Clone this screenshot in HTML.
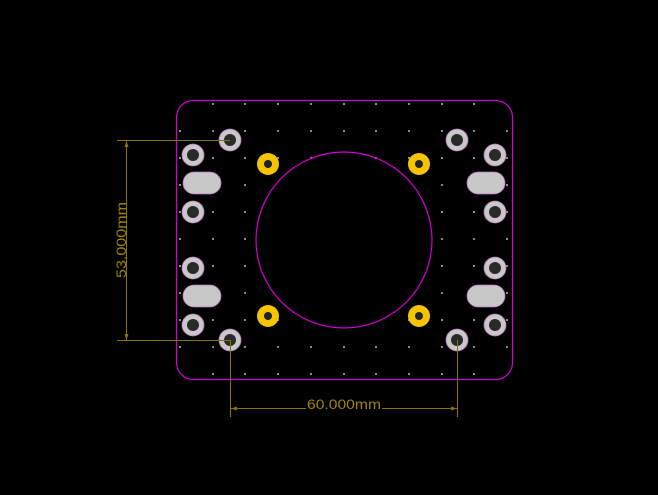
<!DOCTYPE html>
<html><head><style>html,body{margin:0;padding:0;background:#000;}svg{display:block}</style></head>
<body>
<svg width="658" height="495" viewBox="0 0 658 495" xmlns="http://www.w3.org/2000/svg">
<rect width="658" height="495" fill="#000"/>
<g fill="#8c8c8c">
<path d="
M212 103h2v2h-2z M244 103h2v2h-2z M277 103h2v2h-2z M310 103h2v2h-2z M343 103h2v2h-2z M375 103h2v2h-2z M408 103h2v2h-2z M441 103h2v2h-2z M473 103h2v2h-2z
M179 130h2v2h-2z M212 130h2v2h-2z M244 130h2v2h-2z M277 130h2v2h-2z M310 130h2v2h-2z M343 130h2v2h-2z M375 130h2v2h-2z M408 130h2v2h-2z M441 130h2v2h-2z M473 130h2v2h-2z M506 130h2v2h-2z
M179 157h2v2h-2z M212 157h2v2h-2z M244 157h2v2h-2z M277 157h2v2h-2z M310 157h2v2h-2z M375 157h2v2h-2z M408 157h2v2h-2z M441 157h2v2h-2z M473 157h2v2h-2z M506 157h2v2h-2z
M179 184h2v2h-2z M212 184h2v2h-2z M244 184h2v2h-2z M441 184h2v2h-2z M473 184h2v2h-2z M506 184h2v2h-2z
M179 211h2v2h-2z M212 211h2v2h-2z M244 211h2v2h-2z M441 211h2v2h-2z M473 211h2v2h-2z M506 211h2v2h-2z
M179 238h2v2h-2z M212 238h2v2h-2z M244 238h2v2h-2z M441 238h2v2h-2z M473 238h2v2h-2z M506 238h2v2h-2z
M179 265h2v2h-2z M212 265h2v2h-2z M244 265h2v2h-2z M441 265h2v2h-2z M473 265h2v2h-2z M506 265h2v2h-2z
M179 292h2v2h-2z M212 292h2v2h-2z M244 292h2v2h-2z M441 292h2v2h-2z M473 292h2v2h-2z M506 292h2v2h-2z
M179 319h2v2h-2z M212 319h2v2h-2z M244 319h2v2h-2z M277 319h2v2h-2z M408 319h2v2h-2z M441 319h2v2h-2z M473 319h2v2h-2z M506 319h2v2h-2z
M179 346h2v2h-2z M212 346h2v2h-2z M244 346h2v2h-2z M277 346h2v2h-2z M310 346h2v2h-2z M343 346h2v2h-2z M375 346h2v2h-2z M408 346h2v2h-2z M441 346h2v2h-2z M473 346h2v2h-2z M506 346h2v2h-2z
M212 373h2v2h-2z M244 373h2v2h-2z M277 373h2v2h-2z M310 373h2v2h-2z M343 373h2v2h-2z M375 373h2v2h-2z M408 373h2v2h-2z M441 373h2v2h-2z M473 373h2v2h-2z
"/>
</g>
<rect x="176.5" y="100.5" width="336" height="279" rx="17" fill="none" stroke="#d000d0" stroke-width="1.2"/>
<circle cx="344" cy="240" r="88" fill="none" stroke="#d000d0" stroke-width="1.2"/>
<g fill="#c8c8c8" stroke="#c070c0" stroke-width="0.8">
<circle cx="230" cy="140" r="11"/><circle cx="193" cy="155" r="11"/><circle cx="193" cy="212" r="11"/>
<circle cx="193" cy="268" r="11"/><circle cx="193" cy="325" r="11"/><circle cx="230" cy="340" r="11"/>
<circle cx="457" cy="140" r="11"/><circle cx="495" cy="155" r="11"/><circle cx="495" cy="212" r="11"/>
<circle cx="495" cy="268" r="11"/><circle cx="495" cy="325" r="11"/><circle cx="457" cy="340" r="11"/>
<rect x="183" y="172" width="38" height="22" rx="11"/><rect x="183" y="285" width="38" height="22" rx="11"/>
<rect x="467" y="172" width="38" height="22" rx="11"/><rect x="467" y="285" width="38" height="22" rx="11"/>
</g>
<g fill="#2a2a2a">
<circle cx="230" cy="140" r="6"/><circle cx="193" cy="155" r="6"/><circle cx="193" cy="212" r="6"/>
<circle cx="193" cy="268" r="6"/><circle cx="193" cy="325" r="6"/><circle cx="230" cy="340" r="6"/>
<circle cx="457" cy="140" r="6"/><circle cx="495" cy="155" r="6"/><circle cx="495" cy="212" r="6"/>
<circle cx="495" cy="268" r="6"/><circle cx="495" cy="325" r="6"/><circle cx="457" cy="340" r="6"/>
</g>
<g fill="#f5c400"><circle cx="268" cy="164" r="11"/><circle cx="419" cy="164" r="11"/><circle cx="268" cy="316" r="11"/><circle cx="419" cy="316" r="11"/></g>
<g fill="#222"><circle cx="268" cy="164" r="4"/><circle cx="419" cy="164" r="4"/><circle cx="268" cy="316" r="4"/><circle cx="419" cy="316" r="4"/></g>
<g stroke="#8a7400" stroke-width="1" fill="none">
<line x1="117" y1="140.5" x2="230" y2="140.5"/><line x1="117" y1="340.5" x2="230" y2="340.5"/>
<line x1="126.5" y1="140" x2="126.5" y2="340"/>
<line x1="230.5" y1="340" x2="230.5" y2="417"/><line x1="457.5" y1="340" x2="457.5" y2="417"/>
<line x1="230" y1="408.5" x2="457" y2="408.5"/>
</g>
<g fill="#8a7400">
<polygon points="126.5,141 124.5,147 128.5,147"/><polygon points="126.5,340 124.5,334 128.5,334"/>
<polygon points="231,408.5 237,406.5 237,410.5"/><polygon points="457,408.5 451,406.5 451,410.5"/>
</g>
<g font-family="Liberation Sans, sans-serif" font-size="13.5" fill="#a08400">
<rect x="306" y="398" width="76" height="14" fill="#000"/>
<text x="344" y="409" text-anchor="middle" textLength="74" lengthAdjust="spacingAndGlyphs">60.000mm</text>
<text transform="translate(126,240) rotate(-90)" text-anchor="middle" textLength="76" lengthAdjust="spacingAndGlyphs">53.000mm</text>
</g>
</svg>
</body></html>
